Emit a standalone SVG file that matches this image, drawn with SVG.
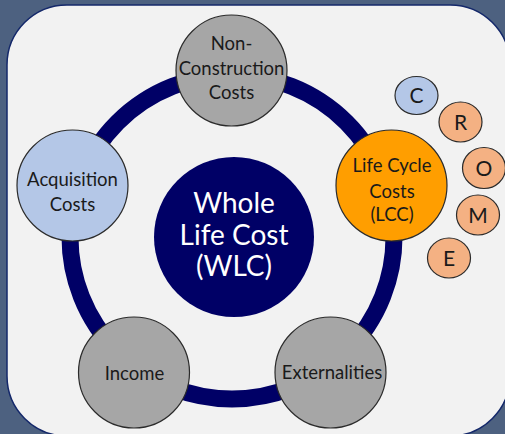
<svg xmlns="http://www.w3.org/2000/svg" width="505" height="434" viewBox="0 0 505 434">
<style>
text{font-family:Lato,"Open Sans",sans-serif;text-anchor:middle}
.node{stroke:#2b2b2b;stroke-width:1.2}
.gray{fill:#a6a6a6}
.lbl{font-size:18.5px;fill:#1a1a1a}
.small{stroke:#2b2b2b;stroke-width:1.2;fill:#f4b183}
.sl{font-size:21px;fill:#1a1a1a}
</style>
<rect x="0" y="0" width="505" height="434" fill="#4d6180"/>
<rect x="7" y="5" width="503" height="431" rx="60" ry="60" fill="#f2f2f2" stroke="#14286a" stroke-width="1.5"/>
<g id="connectors">
<circle cx="232" cy="237" r="162" fill="none" stroke="#000066" stroke-width="17"/>
</g>
<g id="wlc">
<circle cx="234" cy="237" r="80" fill="#000066"/>
<text x="234" y="213" font-size="28" fill="#ffffff">Whole</text>
<text x="234" y="245" font-size="28" fill="#ffffff">Life Cost</text>
<text x="234" y="276" font-size="28" fill="#ffffff">(WLC)</text>
</g>
<g id="non-construction">
<circle class="node gray" cx="231.5" cy="70.5" r="55.5"/>
<text class="lbl" x="231.5" y="50">Non-</text>
<text class="lbl" x="231.5" y="75">Construction</text>
<text class="lbl" x="231.5" y="99">Costs</text>
</g>
<g id="acquisition">
<circle class="node" fill="#b4c7e7" cx="72.5" cy="185.5" r="55.5"/>
<text class="lbl" x="72.5" y="186">Acquisition</text>
<text class="lbl" x="72.5" y="211">Costs</text>
</g>
<g id="lcc">
<circle class="node" fill="#ff9e00" cx="391.5" cy="185.5" r="55.5"/>
<text class="lbl" x="392" y="172">Life Cycle</text>
<text class="lbl" x="392" y="198">Costs</text>
<text class="lbl" x="392" y="221">(LCC)</text>
</g>
<g id="income">
<circle class="node gray" cx="134" cy="372.5" r="55.5"/>
<text class="lbl" x="134.5" y="380">Income</text>
</g>
<g id="externalities">
<circle class="node gray" cx="330.5" cy="372.5" r="55.5"/>
<text class="lbl" x="332" y="379">Externalities</text>
</g>
<g id="c">
<ellipse cx="416.5" cy="95.5" rx="21.5" ry="19" stroke="#2b2b2b" stroke-width="1.2" fill="#b4c7e7"/>
<text class="sl" x="416.5" y="103">C</text>
</g>
<g id="r">
<ellipse class="small" cx="460.5" cy="122" rx="21.5" ry="20"/>
<text class="sl" x="460.5" y="129.5">R</text>
</g>
<g id="o">
<ellipse class="small" cx="484" cy="168" rx="21.5" ry="20.5"/>
<text class="sl" x="484" y="175.5">O</text>
</g>
<g id="m">
<ellipse class="small" cx="478" cy="215" rx="21.5" ry="20"/>
<text class="sl" x="478" y="222.5">M</text>
</g>
<g id="e">
<ellipse class="small" cx="449" cy="258" rx="21.5" ry="20"/>
<text class="sl" x="449" y="265.5">E</text>
</g>
</svg>
